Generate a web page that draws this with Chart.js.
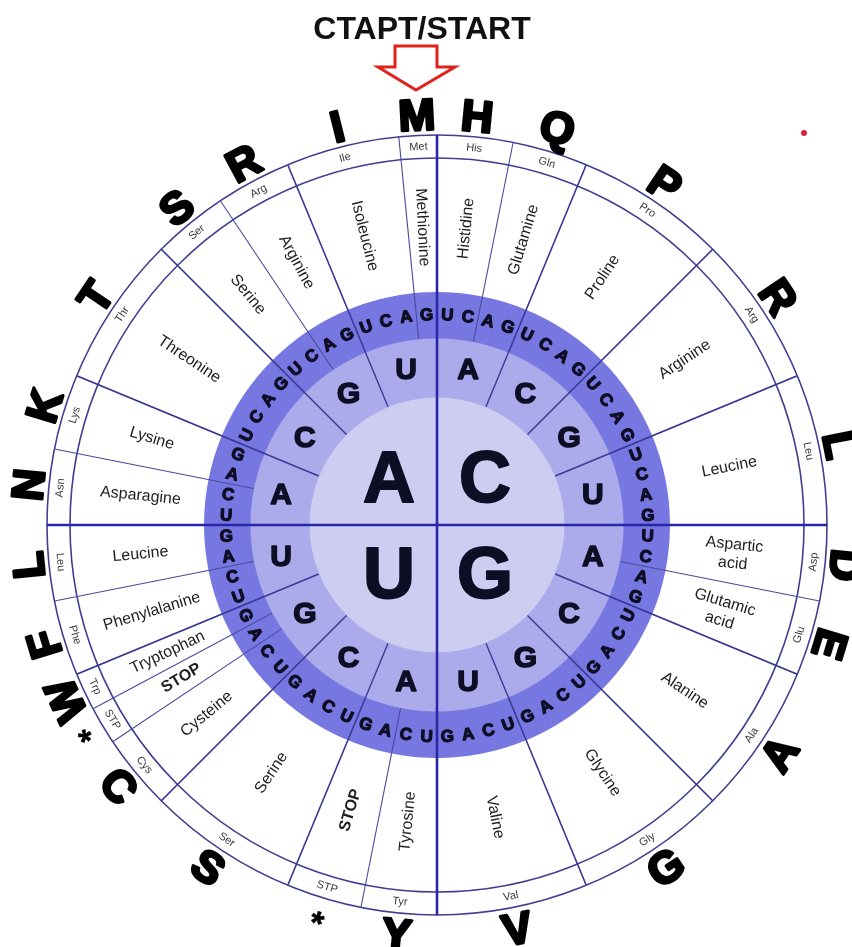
<!DOCTYPE html>
<html>
<head>
<meta charset="utf-8">
<title>Codon wheel</title>
<script src="https://cdn.jsdelivr.net/npm/chart.js@4/dist/chart.umd.min.js"></script>
<style>
    html, body { margin: 0; padding: 0; background: #fff; }
    #caja { position: relative; width: 852px; height: 947px; }
</style>
</head>
<body>
<div id="caja"><canvas id="rueda"></canvas></div>
<script>
// everything is listed clockwise starting at 12 o'clock
const primeraBase = ['C', 'G', 'U', 'A'];
const segundaBase = ['A', 'C', 'G', 'U'];
const terceraBase = ['U', 'C', 'A', 'G'];

const abreviaturas = ['His', 'Gln', 'Pro', 'Arg', 'Leu', 'Asp', 'Glu', 'Ala', 'Gly', 'Val',
    'Tyr', 'STP', 'Ser', 'Cys', 'STP', 'Trp', 'Phe', 'Leu', 'Asn', 'Lys', 'Thr', 'Ser', 'Arg', 'Ile', 'Met'];
const nombres = ['Histidine', 'Glutamine', 'Proline', 'Arginine', 'Leucine', 'Aspartic\nacid', 'Glutamic\nacid',
    'Alanine', 'Glycine', 'Valine', 'Tyrosine', 'STOP', 'Serine', 'Cysteine', 'STOP', 'Tryptophan',
    'Phenylalanine', 'Leucine', 'Asparagine', 'Lysine', 'Threonine', 'Serine', 'Arginine', 'Isoleucine', 'Methionine'];
const letras = ['H', 'Q', 'P', 'R', 'L', 'D', 'E', 'A', 'G', 'V', 'Y', '*', 'S', 'C', '*', 'W', 'F', 'L',
    'N', 'K', 'T', 'S', 'R', 'I', 'M'];
const codones = [2, 2, 4, 4, 4, 2, 2, 4, 4, 4, 2, 2, 4, 2, 1, 1, 2, 2, 2, 2, 4, 2, 2, 3, 1];

const FUENTE = '"Liberation Sans", Arial, sans-serif';

// labels of the two inner rings
const segundas = [];
const terceras = [];
primeraBase.forEach(() => {
    segundaBase.forEach(b2 => {
        segundas.push(b2);
        terceraBase.forEach(b3 => terceras.push(b3));
    });
});

function texto(ctx, txt, x, y, giro, centrarTinta, grosor) {
    ctx.save();
    ctx.translate(x, y);
    ctx.rotate(giro);
    if (centrarTinta) {
        ctx.textBaseline = 'alphabetic';
        const m = ctx.measureText(txt);
        const dy = (m.actualBoundingBoxAscent - m.actualBoundingBoxDescent) / 2;
        if (grosor) {
            ctx.lineWidth = grosor;
            ctx.lineJoin = 'round';
            ctx.strokeStyle = ctx.fillStyle;
            ctx.strokeText(txt, 0, dy);
        }
        ctx.fillText(txt, 0, dy);
    } else {
        ctx.textBaseline = 'middle';
        const lineas = txt.split('\n');
        const alto = 19;
        lineas.forEach((l, k) => {
            ctx.fillText(l, 0, (k - (lineas.length - 1) / 2) * alto);
        });
    }
    ctx.restore();
}

function giroTercera(a) {
    const t = a + Math.PI / 2;
    let g = Math.sin(a) <= 0 ? t : t - Math.PI;
    while (g > Math.PI) g -= 2 * Math.PI;
    while (g <= -Math.PI) g += 2 * Math.PI;
    if (g > 3 * Math.PI / 8) g -= Math.PI / 2;
    if (g < -3 * Math.PI / 8) g += Math.PI / 2;
    return g;
}

const pluginRueda = {
    id: 'pluginRueda',
    afterDatasetsDraw(chart) {
        const ctx = chart.ctx;
        const arcos = i => chart.getDatasetMeta(i).data;
        const ext = arcos(0), nom = arcos(1), ter = arcos(2), seg = arcos(3), pri = arcos(4);
        const cx = ext[0].x, cy = ext[0].y;
        const R = ext[0].outerRadius;
        const rAbr = ext[0].innerRadius;
        const rNom = nom[0].innerRadius;
        const rTer = ter[0].innerRadius;
        const rSeg = seg[0].innerRadius;
        const medio = arc => (arc.startAngle + arc.endAngle) / 2;
        const pos = (r, a) => [cx + r * Math.cos(a), cy + r * Math.sin(a)];

        ctx.save();

        // lines
        const radial = (a, r1, r2) => {
            const p1 = pos(r1, a), p2 = pos(r2, a);
            ctx.beginPath();
            ctx.moveTo(p1[0], p1[1]);
            ctx.lineTo(p2[0], p2[1]);
            ctx.stroke();
        };
        ctx.strokeStyle = '#3f3f92';
        ctx.lineWidth = 1.6;
        [R, rAbr].forEach(r => {
            ctx.beginPath();
            ctx.arc(cx, cy, r, 0, Math.PI * 2);
            ctx.stroke();
        });
        ctx.lineWidth = 1.1;
        ctx.strokeStyle = '#4a4a9e';
        nom.forEach(arc => radial(arc.startAngle, rTer, R));
        ctx.lineWidth = 1.4;
        ctx.strokeStyle = '#3a3a96';
        seg.forEach(arc => radial(arc.startAngle, rSeg, R));
        ctx.lineWidth = 2.6;
        ctx.strokeStyle = '#2727a8';
        pri.forEach(arc => radial(arc.startAngle, 0, R));

        ctx.textAlign = 'center';

        // abbreviations
        ctx.fillStyle = '#3a3a3a';
        ctx.font = '11px ' + FUENTE;
        ext.forEach((arc, i) => {
            const a = medio(arc);
            const p = pos((R + rAbr) / 2, a);
            const giro = Math.sin(a) < 0 ? a + Math.PI / 2 : a - Math.PI / 2;
            texto(ctx, abreviaturas[i], p[0], p[1], giro, false);
        });

        // full names
        ctx.fillStyle = '#1e1e1e';
        nom.forEach((arc, i) => {
            const a = medio(arc);
            const p = pos(298, a);
            const giro = Math.cos(a) >= 0 ? a : a + Math.PI;
            ctx.font = (nombres[i] === 'STOP' ? 'bold ' : '') + '16px ' + FUENTE;
            texto(ctx, nombres[i], p[0], p[1], giro, false);
        });

        // third base
        ctx.fillStyle = '#0d0d24';
        ctx.font = 'bold 17px ' + FUENTE;
        ter.forEach((arc, i) => {
            const a = medio(arc);
            const p = pos((rTer + rNom) / 2 + 1, a);
            texto(ctx, terceras[i], p[0], p[1], giroTercera(a), true, 1.2);
        });

        // second base
        ctx.font = 'bold 30px ' + FUENTE;
        seg.forEach((arc, i) => {
            const p = pos(159, medio(arc));
            texto(ctx, segundas[i], p[0], p[1], 0, true, 1.5);
        });

        // first base
        ctx.font = 'bold 72px ' + FUENTE;
        pri.forEach((arc, i) => {
            const p = pos(68, medio(arc));
            texto(ctx, primeraBase[i], p[0], p[1], 0, true, 2);
        });

        // one letter codes outside the wheel
        ctx.fillStyle = '#000';
        ext.forEach((arc, i) => {
            const a = medio(arc);
            const p = pos(R + 21, a);
            const t = a + Math.PI / 2;
            const giro = Math.cos(t) < -0.5 ? t + Math.PI : t;
            const esStop = letras[i] === '*';
            ctx.font = 'bold ' + (esStop ? 34 : 44) + 'px ' + FUENTE;
            texto(ctx, letras[i], p[0], p[1], giro, true, esStop ? 0.5 : 3);
        });

        // title, arrow and the stray red dot
        ctx.font = 'bold 32px ' + FUENTE;
        ctx.textBaseline = 'alphabetic';
        ctx.fillStyle = '#111';
        ctx.fillText('CTAPT/START', 422, 39);

        ctx.strokeStyle = '#e0221c';
        ctx.lineWidth = 3;
        ctx.lineJoin = 'miter';
        ctx.beginPath();
        ctx.moveTo(395, 46);
        ctx.lineTo(437, 46);
        ctx.lineTo(437, 67);
        ctx.lineTo(455, 67);
        ctx.lineTo(416, 90);
        ctx.lineTo(378, 67);
        ctx.lineTo(395, 67);
        ctx.closePath();
        ctx.stroke();

        ctx.fillStyle = '#d8243a';
        ctx.beginPath();
        ctx.arc(804, 133, 3, 0, Math.PI * 2);
        ctx.fill();

        ctx.restore();
    }
};

document.addEventListener('DOMContentLoaded', () => {
    const ctx = document.getElementById('rueda').getContext('2d');
    const colorOscuro = '#7777e2';
    const colorMedio = '#ababec';
    const colorClaro = '#cdcdf2';

    new Chart(ctx, {
        type: 'doughnut',
        data: {
            datasets: [
                { data: codones, weight: 23, backgroundColor: '#ffffff', borderColor: '#ffffff', borderWidth: 0 },
                { data: codones, weight: 134, backgroundColor: '#ffffff', borderColor: '#ffffff', borderWidth: 0 },
                { data: terceras.map(() => 1), weight: 46, backgroundColor: colorOscuro, borderColor: colorOscuro, borderWidth: 1 },
                { data: segundas.map(() => terceraBase.length), weight: 59, backgroundColor: colorMedio, borderColor: colorMedio, borderWidth: 1 },
                { data: primeraBase.map(() => segundaBase.length * terceraBase.length), weight: 128, backgroundColor: colorClaro, borderColor: colorClaro, borderWidth: 1 }
            ]
        },
        options: {
            responsive: true,
            maintainAspectRatio: false,
            animation: false,
            events: [],
            cutout: 0,
            radius: 390,
            layout: { padding: { left: 22, right: 0, top: 103, bottom: 0 } },
            plugins: {
                legend: { display: false },
                tooltip: { enabled: false }
            }
        },
        plugins: [pluginRueda]
    });
});
</script>
</body>
</html>
